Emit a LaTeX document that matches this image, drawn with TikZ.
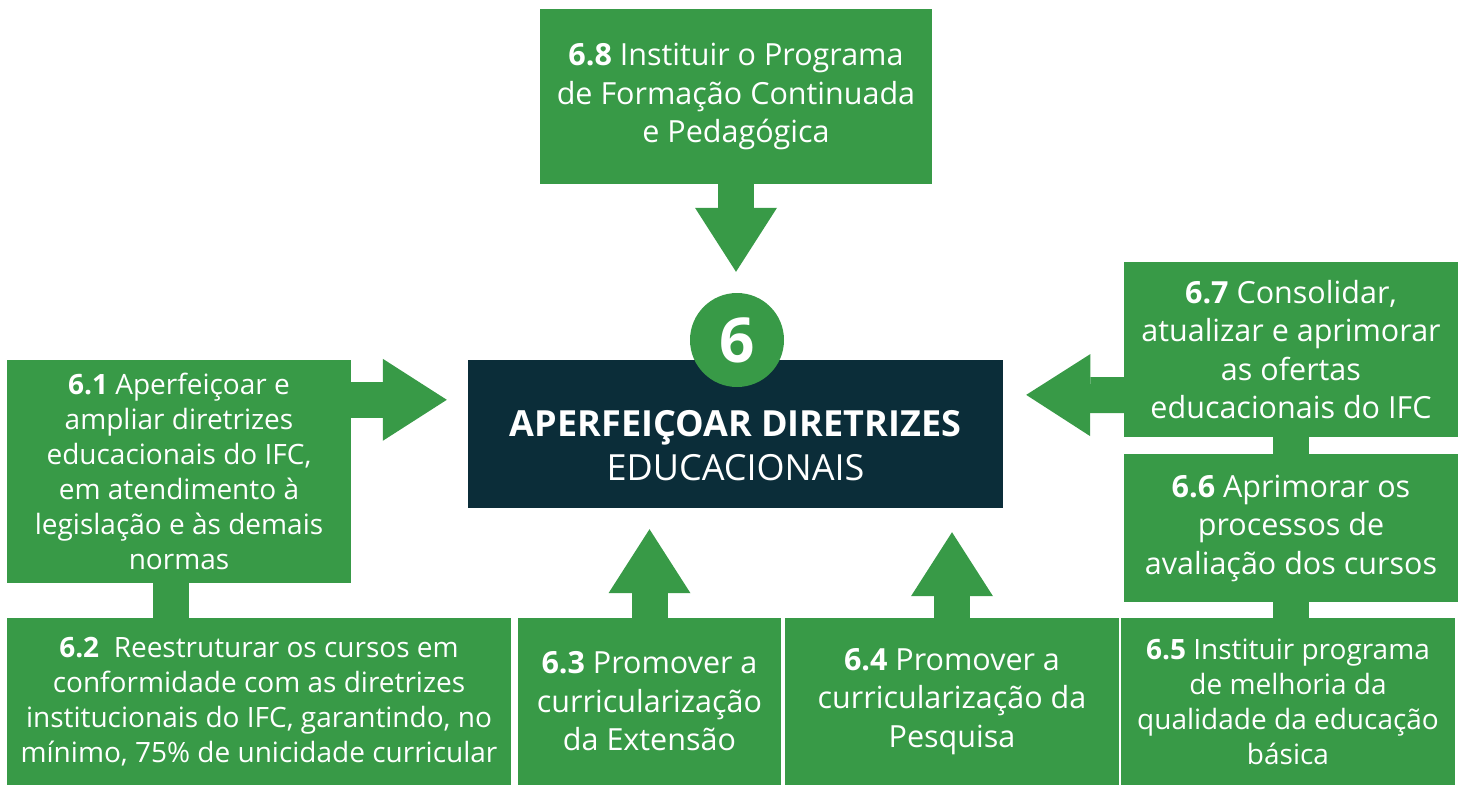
\documentclass[tikz,border=0pt]{standalone}
\usepackage{fontspec}
\setmainfont{Open Sans}
\usepackage{xcolor}
\usetikzlibrary{arrows.meta, positioning, calc}

\definecolor{ifcgreen}{HTML}{389A47}
\definecolor{ifcdark}{HTML}{0B2D39}

\begin{document}
\begin{tikzpicture}[x=1pt, y=-1pt,
  goal/.style={fill=ifcgreen, text=white, align=center, inner sep=0pt, font=\fontsize{30.5}{38.5}\selectfont},
  goalsmall/.style={goal, font=\fontsize{28}{35}\selectfont},
  fat/.style={line width=36pt, ifcgreen, -{Triangle[width=82pt, length=64pt, line width=0pt]}},
  bar/.style={line width=36pt, ifcgreen}]
\useasboundingbox (0,0) rectangle (1469,787);

% central goal
\node[fill=ifcdark, minimum width=535pt, minimum height=148pt, inner sep=0pt] (main) at (735.5,434) {};
\node[text=white, align=center, font=\fontsize{36}{44}\selectfont] (title) at ([yshift=-12pt]main.center) {\textbf{APERFEIÇOAR DIRETRIZES}\\EDUCACIONAIS};
\node[circle, fill=ifcgreen, text=white, minimum size=94pt, inner sep=0pt, font=\fontsize{62}{62}\selectfont\bfseries] (badge) at (737,340) {6};

% actions
\node[goal, minimum width=392pt, minimum height=175pt] (n68) at (736,96.5) {\textbf{6.8} Instituir o Programa\\de Formação Continuada\\e Pedagógica};
\node[goalsmall, minimum width=344pt, minimum height=223pt] (n61) at (179,471.5) {\textbf{6.1} Aperfeiçoar e\\ampliar diretrizes\\educacionais do IFC,\\em atendimento à\\legislação e às demais\\normas};
\node[goalsmall, minimum width=504pt, minimum height=167pt] (n62) at (259,701.5) {\textbf{6.2}\ \ Reestruturar os cursos em\\conformidade com as diretrizes\\institucionais do IFC, garantindo, no\\mínimo, 75\% de unicidade curricular};
\node[goal, minimum width=263pt, minimum height=167pt] (n63) at (649.5,701.5) {\textbf{6.3} Promover a\\curricularização\\da Extensão};
\node[goal, minimum width=334pt, minimum height=167pt] (n64) at (952,701.5) {\textbf{6.4} Promover a\\curricularização da\\Pesquisa};
\node[goalsmall, minimum width=334pt, minimum height=167pt] (n65) at (1288,701.5) {\textbf{6.5} Instituir programa\\de melhoria da\\qualidade da educação\\básica};
\node[goal, minimum width=334pt, minimum height=148pt] (n66) at (1291,528) {\textbf{6.6} Aprimorar os\\processos de\\avaliação dos cursos};
\node[goal, minimum width=334pt, minimum height=175pt] (n67) at (1291,349.5) {\textbf{6.7} Consolidar,\\atualizar e aprimorar\\as ofertas\\educacionais do IFC};

% arrows into the goal
\draw[fat, shorten >=21pt] (n68.south) -- (n68.south |- badge.north);
\draw[fat, shorten >=21pt] ([yshift=-40pt]n61.north east) -- ([yshift=-40pt]main.north west);
\draw[fat, shorten >=23pt] ([yshift=42pt]n67.south west) -- ([yshift=-35pt]main.north east);
\draw[fat, shorten >=21pt] (n63.north) -- (n63.north |- main.south);
\draw[fat, shorten >=24pt] (n64.north) -- (n64.north |- main.south);

% links between boxes
\draw[bar] ([xshift=-8pt]n61.south) -- ([xshift=-8pt]n61.south |- n62.north);
\draw[bar] (n67.south) -- (n66.north);
\draw[bar] (n66.south) -- (n66.south |- n65.north);
\end{tikzpicture}
\end{document}
